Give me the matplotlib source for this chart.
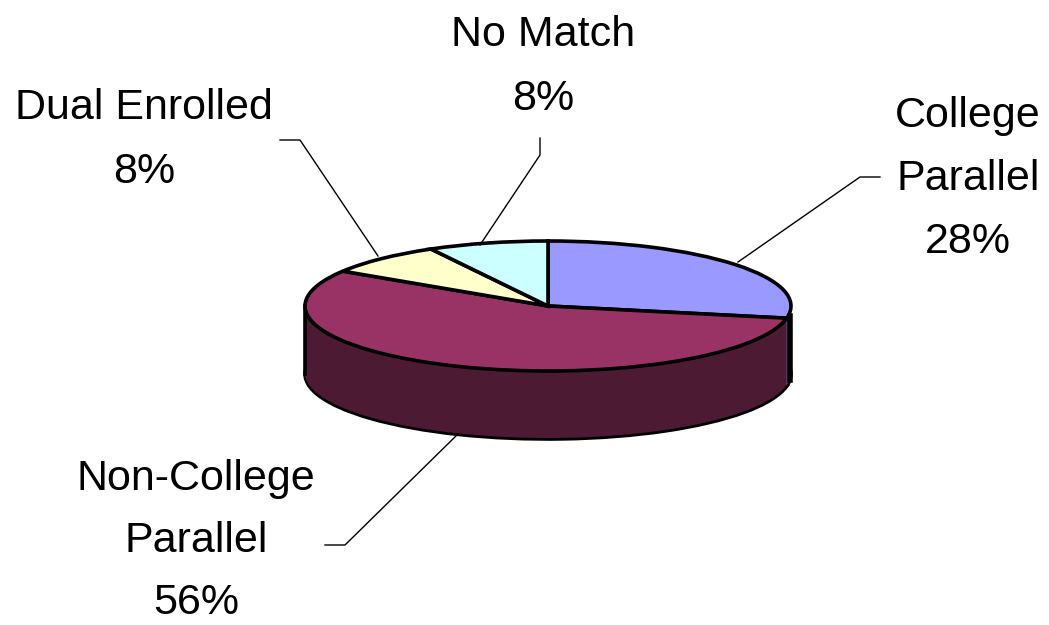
import matplotlib
matplotlib.use('Agg')
import matplotlib.pyplot as plt

########## data ##########
labels = ['College\nParallel', 'Non-College\nParallel', 'Dual Enrolled', 'No Match']
percents = [28, 56, 8, 8]
top_colors = ['#9999FF', '#993366', '#FFFFCC', '#CCFFFF']
side_colors = ['#4D4D80', '#4D1A33', '#808066', '#668080']

plt.rcParams['font.family'] = ['Liberation Sans', 'DejaVu Sans']

W, H = 1049, 625
fig = plt.figure(figsize=(W / 100, H / 100), dpi=100)
ax = fig.add_axes([0, 0, 1, 1])

# ピクセル座標で描く (y軸は下向き)
center_x, center_y = 548, 306
depth = 68
y_scale = 65 / 243
line_w = 2.6


def draw_pie(y_off, colors, edge, lw):
    # y方向だけ潰して楕円にする
    wedges, _ = ax.pie(percents, colors=colors, startangle=-90, counterclock=True,
                       radius=243, center=(center_x, (center_y + y_off)),
                       wedgeprops=dict(edgecolor=edge, linewidth=lw))
    for w in wedges:
        w.set_transform(matplotlib.transforms.Affine2D()
                        .translate(0, -(center_y + y_off))
                        .scale(1, y_scale)
                        .translate(0, center_y + y_off) + ax.transData)
    return wedges


# 側面：暗い色のパイを積み重ねる
draw_pie(depth, side_colors, 'black', line_w)
for off in range(depth - 1, 0, -1):
    draw_pie(off, side_colors, 'none', 0)
draw_pie(0, top_colors, 'black', line_w)

ax.plot([305, 305], [center_y, center_y + depth], color='black', lw=line_w)
ax.plot([790, 790], [center_y + 10, center_y + depth + 6], color='black', lw=line_w + 1.4)

# 引き出し線
ax.plot([738, 860, 880], [262, 177, 177], color='black', lw=1)
ax.plot([378, 300, 280], [256, 140, 140], color='black', lw=1)
ax.plot([480, 540, 540], [245, 155, 138], color='black', lw=1)
ax.plot([458, 345, 325], [434, 545, 545], color='black', lw=1)

fs = 31
sp = 1.75
ax.text(968, 179, f'{labels[0]}\n{percents[0]}%', ha='center', va='center', fontsize=fs, linespacing=sp)
ax.text(196, 541, f'{labels[1]}\n{percents[1]}%', ha='center', va='center', fontsize=fs, linespacing=1.7)
ax.text(144, 140, f'{labels[2]}\n{percents[2]}%', ha='center', va='center', fontsize=fs, linespacing=sp)
ax.text(543, 67, f'{labels[3]}\n{percents[3]}%', ha='center', va='center', fontsize=fs, linespacing=sp)

ax.set_aspect('auto')
ax.set_xlim(0, W)
ax.set_ylim(H, 0)
ax.axis('off')

fig.savefig('out.png', dpi=100, facecolor='white')
